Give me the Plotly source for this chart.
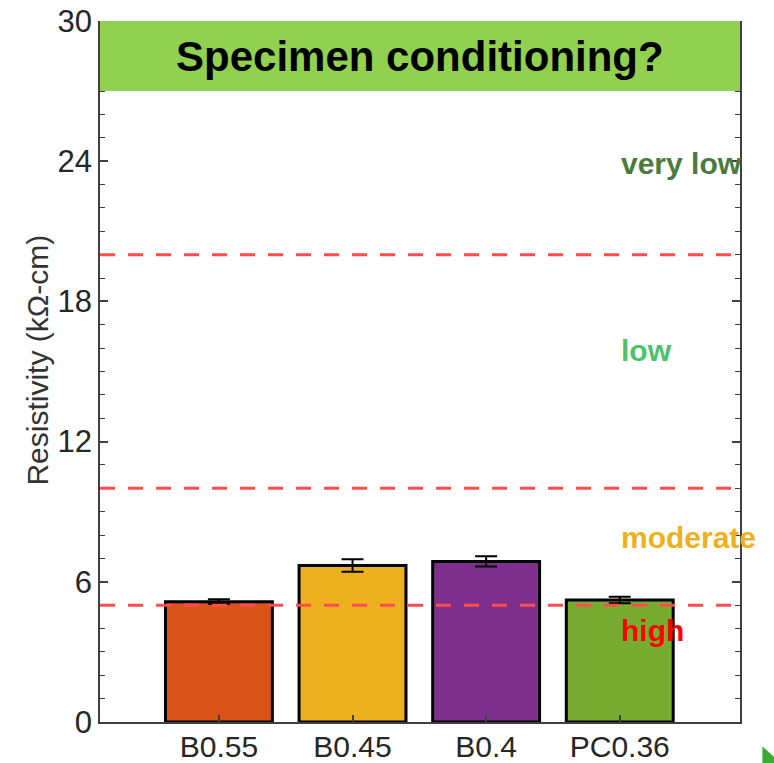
import plotly.graph_objects as go

# Mix designs and their measured resistivity (kOhm-cm) with standard deviation
mixes = ["B0.55", "B0.45", "B0.4", "PC0.36"]
resistivity = [5.15, 6.7, 6.87, 5.22]
std_dev = [0.1, 0.27, 0.22, 0.14]
bar_colors = ["#D95319", "#EDB120", "#7E2F8E", "#77AC30"]

# Corrosion-risk thresholds and zone labels
thresholds = [5, 10, 20]
zone_labels = ["very low", "low", "moderate", "high"]
zone_label_y = [23.9, 15.9, 7.9, 3.9]
zone_colors = ["#4A7B3E", "#4CC26E", "#EDB120", "#FF0000"]

y_ticks = [0, 6, 12, 18, 24, 30]

FONT = "Liberation Sans"

fig = go.Figure()
fig.add_trace(go.Bar(
    x=list(range(len(mixes))),
    y=resistivity,
    width=0.8,
    marker=dict(color=bar_colors, line=dict(color="#000000", width=3)),
    error_y=dict(type="data", array=std_dev, color="#000000", thickness=2, width=11),
    showlegend=False,
))

shapes = []
for t in thresholds:
    shapes.append(dict(
        type="line", xref="paper", yref="y", x0=0, x1=1, y0=t, y1=t,
        line=dict(color="#FF4D4D", width=3, dash="15px,13px"), layer="above",
    ))
# Green title banner across the top of the axes
shapes.append(dict(
    type="rect", xref="paper", yref="y", x0=0, x1=1, y0=27, y1=30,
    fillcolor="#92D050", line=dict(width=0), layer="above",
))
# Small green corner marker
shapes.append(dict(
    type="path", xref="paper", yref="paper",
    path="M 1.035 -0.035 L 1.06 -0.055 L 1.035 -0.075 Z",
    fillcolor="#3DAA35", line=dict(width=0), layer="above",
))

annotations = [dict(
    text="<b>Specimen conditioning?</b>", xref="paper", yref="y",
    x=0.5, y=28.5, showarrow=False,
    font=dict(size=42, color="#000000", family=FONT),
)]
for lbl, yy, col in zip(zone_labels, zone_label_y, zone_colors):
    annotations.append(dict(
        text=f"<b>{lbl}</b>", xref="paper", yref="y", x=0.811, y=yy,
        xanchor="left", yanchor="middle", showarrow=False,
        font=dict(size=30, color=col, family=FONT),
    ))
# Vertical y-axis label
annotations.append(dict(
    text="Resistivity (kΩ-cm)", xref="paper", yref="paper",
    x=-0.098, y=0.516, textangle=-90, showarrow=False,
    xanchor="center", yanchor="middle",
    font=dict(size=30, color="#333333", family=FONT),
))

fig.update_layout(
    width=774, height=763,
    margin=dict(l=100, r=34, t=21, b=41),
    paper_bgcolor="white", plot_bgcolor="white",
    font=dict(family=FONT, size=31, color="#262626"),
    shapes=shapes, annotations=annotations,
    xaxis=dict(
        range=[-0.89, 3.9], tickvals=list(range(len(mixes))), ticktext=mixes,
        showline=True, linecolor="#404040", linewidth=1.5, automargin=False,
        ticks="inside", ticklen=7, tickcolor="#404040", tickwidth=1.5,
        showgrid=False, zeroline=False, tickfont=dict(size=30),
        ticklabelstandoff=-3,
    ),
    yaxis=dict(
        range=[0, 30], tickvals=y_ticks, automargin=False,
        showline=True, linecolor="#404040", linewidth=1.5, mirror="ticks",
        ticks="inside", ticklen=8, tickcolor="#404040", tickwidth=1.5,
        minor=dict(dtick=1, ticks="inside", ticklen=5, tickcolor="#404040", tickwidth=1.2),
        showgrid=False, zeroline=False, tickfont=dict(size=31),
    ),
)

fig.write_html("out.html")
